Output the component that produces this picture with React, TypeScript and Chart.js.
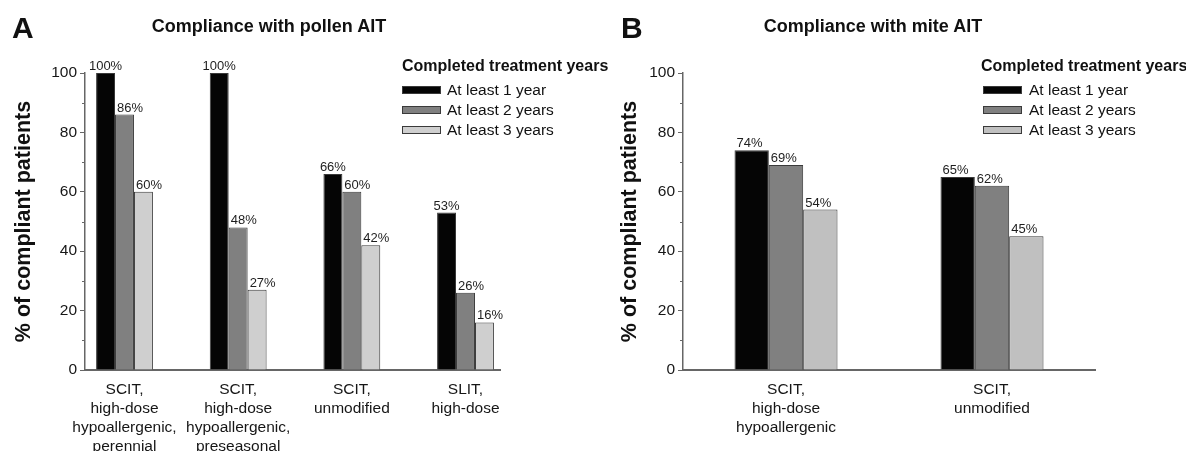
import React, { useEffect, useRef } from 'react';
import { Chart, registerables } from 'chart.js';

Chart.register(...registerables);

const FONT = '"Liberation Sans", Arial, Helvetica, sans-serif';

const seriesNames = ['At least 1 year', 'At least 2 years', 'At least 3 years'];

const pollenCategories = [
  ['SCIT,', 'high-dose', 'hypoallergenic,', 'perennial'],
  ['SCIT,', 'high-dose', 'hypoallergenic,', 'preseasonal'],
  ['SCIT,', 'unmodified'],
  ['SLIT,', 'high-dose'],
];
const pollenYear1 = [100, 100, 66, 53];
const pollenYear2 = [86, 48, 60, 26];
const pollenYear3 = [60, 27, 42, 16];

const miteCategories = [
  ['SCIT,', 'high-dose', 'hypoallergenic'],
  ['SCIT,', 'unmodified'],
];
const miteYear1 = [74, 65];
const miteYear2 = [69, 62];
const miteYear3 = [54, 45];

const yMajorStep = 20;
const yMinorTicks = [10, 30, 50, 70, 90];

const AXIS_COLOR = '#666666';
const BAR_BORDER = '#3a3a3a';

type PanelCfg = {
  left: number;
  width: number;
  yAxisWidth: number;
  padRight: number;
  yTitlePad: number;
  xMin: number;
  xMax: number;
  categories: string[][];
  series: number[][];
  colors: string[];
  labelAlign: string[];
};

const valueLabelPlugin = {
  id: 'valueLabels',
  afterDatasetsDraw(chart: any, _args: any, opts: any) {
    const ctx = chart.ctx;
    ctx.save();
    ctx.font = `13px ${FONT}`;
    ctx.fillStyle = '#1e1e1e';
    ctx.textBaseline = 'alphabetic';
    chart.data.datasets.forEach((ds: any, di: number) => {
      const meta = chart.getDatasetMeta(di);
      meta.data.forEach((el: any, i: number) => {
        const { x, y, width } = el.getProps(['x', 'y', 'width'], true);
        const v = ds.data[i].y;
        const align = (opts.align && opts.align[di]) || 'left';
        ctx.textAlign = align;
        const tx = align === 'center' ? x : x - width / 2 + 2;
        ctx.fillText(`${v}%`, tx, y - 3);
      });
    });
    ctx.restore();
  },
};

const minorTickPlugin = {
  id: 'minorTicks',
  afterDraw(chart: any) {
    const s = chart.scales.y;
    const ctx = chart.ctx;
    ctx.save();
    ctx.strokeStyle = AXIS_COLOR;
    ctx.lineWidth = 1;
    yMinorTicks.forEach((v) => {
      const py = Math.round(s.getPixelForValue(v)) + 0.5;
      ctx.beginPath();
      ctx.moveTo(s.right - 3, py);
      ctx.lineTo(s.right, py);
      ctx.stroke();
    });
    ctx.restore();
  },
};

function Panel({ cfg }: { cfg: PanelCfg }) {
  const ref = useRef<HTMLCanvasElement | null>(null);
  useEffect(() => {
    if (!ref.current) return;
    const chart = new Chart(ref.current, {
      type: 'bar',
      data: {
        datasets: cfg.series.map((vals, si) => ({
          label: seriesNames[si],
          data: vals.map((v, i) => ({ x: i, y: v })),
          backgroundColor: cfg.colors[si],
          borderColor: BAR_BORDER,
          borderWidth: 1,
          categoryPercentage: 0.5,
          barPercentage: 1,
        })),
      },
      options: {
        responsive: false,
        animation: false,
        devicePixelRatio: 1,
        layout: { padding: { left: 0, top: 73, right: cfg.padRight, bottom: 0 } },
        plugins: {
          legend: { display: false },
          title: { display: false },
          tooltip: { enabled: false },
          valueLabels: { align: cfg.labelAlign },
        } as any,
        scales: {
          x: {
            type: 'linear',
            min: cfg.xMin,
            max: cfg.xMax,
            offset: false,
            grid: { display: false, drawTicks: false, offset: false },
            border: { display: true, color: AXIS_COLOR, width: 2 },
            ticks: {
              autoSkip: false,
              maxRotation: 0,
              minRotation: 0,
              padding: 10,
              color: '#161616',
              font: { family: FONT, size: 15.5, lineHeight: '19px' },
              callback: (value: any) => {
                const idx = Math.round(Number(value));
                return cfg.categories[idx] ? cfg.categories[idx] : '';
              },
            },
            afterBuildTicks: (scale: any) => {
              scale.ticks = cfg.categories.map((_c, i) => ({ value: i }));
            },
            afterFit: (scale: any) => {
              scale.height = 81;
            },
          } as any,
          y: {
            type: 'linear',
            min: 0,
            max: 100,
            grid: {
              display: true,
              drawOnChartArea: false,
              drawTicks: true,
              tickLength: 5,
              color: AXIS_COLOR,
              lineWidth: 1,
            },
            border: { display: true, color: AXIS_COLOR, width: 1.5 },
            ticks: {
              stepSize: yMajorStep,
              padding: 3,
              color: '#161616',
              font: { family: FONT, size: 15.5 },
            },
            title: {
              display: true,
              text: '% of compliant patients',
              color: '#111111',
              font: { family: FONT, size: 21.5, weight: 'bold' },
              padding: { top: cfg.yTitlePad, bottom: 0 },
            },
            afterFit: (scale: any) => {
              scale.width = cfg.yAxisWidth;
            },
          } as any,
        },
      },
      plugins: [valueLabelPlugin, minorTickPlugin],
    } as any);
    return () => chart.destroy();
  }, [cfg]);
  return (
    <canvas
      ref={ref}
      width={cfg.width}
      height={451}
      style={{ position: 'absolute', left: cfg.left, top: 0, width: cfg.width, height: 451 }}
    />
  );
}

const pollenCfg: PanelCfg = {
  left: 0,
  width: 538,
  yAxisWidth: 85,
  padRight: 38,
  yTitlePad: 11,
  xMin: -0.3475,
  xMax: 3.3035,
  categories: pollenCategories,
  series: [pollenYear1, pollenYear2, pollenYear3],
  colors: ['#050505', '#808080', '#cfcfcf'],
  labelAlign: ['center', 'left', 'left'],
};

const miteCfg: PanelCfg = {
  left: 600,
  width: 586,
  yAxisWidth: 83,
  padRight: 91,
  yTitlePad: 17.5,
  xMin: -0.5,
  xMax: 1.5,
  categories: miteCategories,
  series: [miteYear1, miteYear2, miteYear3],
  colors: ['#050505', '#808080', '#c0c0c0'],
  labelAlign: ['left', 'left', 'left'],
};

function TextAt({ x, baseline, size, bold, children, center, width }: any) {
  const top = baseline - 0.8465 * size;
  const style: any = {
    position: 'absolute',
    top,
    fontSize: size,
    lineHeight: `${size}px`,
    fontWeight: bold ? 'bold' : 'normal',
    whiteSpace: 'nowrap',
    color: '#111',
  };
  if (center) {
    style.left = x - width / 2;
    style.width = width;
    style.textAlign = 'center';
  } else {
    style.left = x;
  }
  return <div style={style}>{children}</div>;
}

function Legend({ titleX, boxX, textX, colors }: any) {
  const rows = [95, 115, 135];
  return (
    <>
      <TextAt x={titleX} baseline={72} size={16} bold>
        Completed treatment years
      </TextAt>
      {seriesNames.map((name, i) => (
        <React.Fragment key={name}>
          <div
            style={{
              position: 'absolute',
              left: boxX,
              top: rows[i] - 9,
              width: 39,
              height: 8,
              boxSizing: 'border-box',
              border: `1px solid ${BAR_BORDER}`,
              background: colors[i],
            }}
          />
          <TextAt x={textX} baseline={rows[i]} size={15.5}>
            {name}
          </TextAt>
        </React.Fragment>
      ))}
    </>
  );
}

export default function App() {
  return (
    <div
      style={{
        position: 'absolute',
        left: 0,
        top: 0,
        width: 1186,
        height: 451,
        overflow: 'hidden',
        background: '#ffffff',
        fontFamily: FONT,
      }}
    >
      <Panel cfg={pollenCfg} />
      <Panel cfg={miteCfg} />
      <TextAt x={12} baseline={38} size={30} bold>
        A
      </TextAt>
      <TextAt x={621} baseline={38} size={30} bold>
        B
      </TextAt>
      <TextAt x={269} baseline={32.5} size={18} bold center width={400}>
        Compliance with pollen AIT
      </TextAt>
      <TextAt x={873} baseline={32.5} size={18} bold center width={400}>
        Compliance with mite AIT
      </TextAt>
      <Legend titleX={402} boxX={402} textX={447} colors={pollenCfg.colors} />
      <Legend titleX={981} boxX={983} textX={1029} colors={miteCfg.colors} />
    </div>
  );
}
